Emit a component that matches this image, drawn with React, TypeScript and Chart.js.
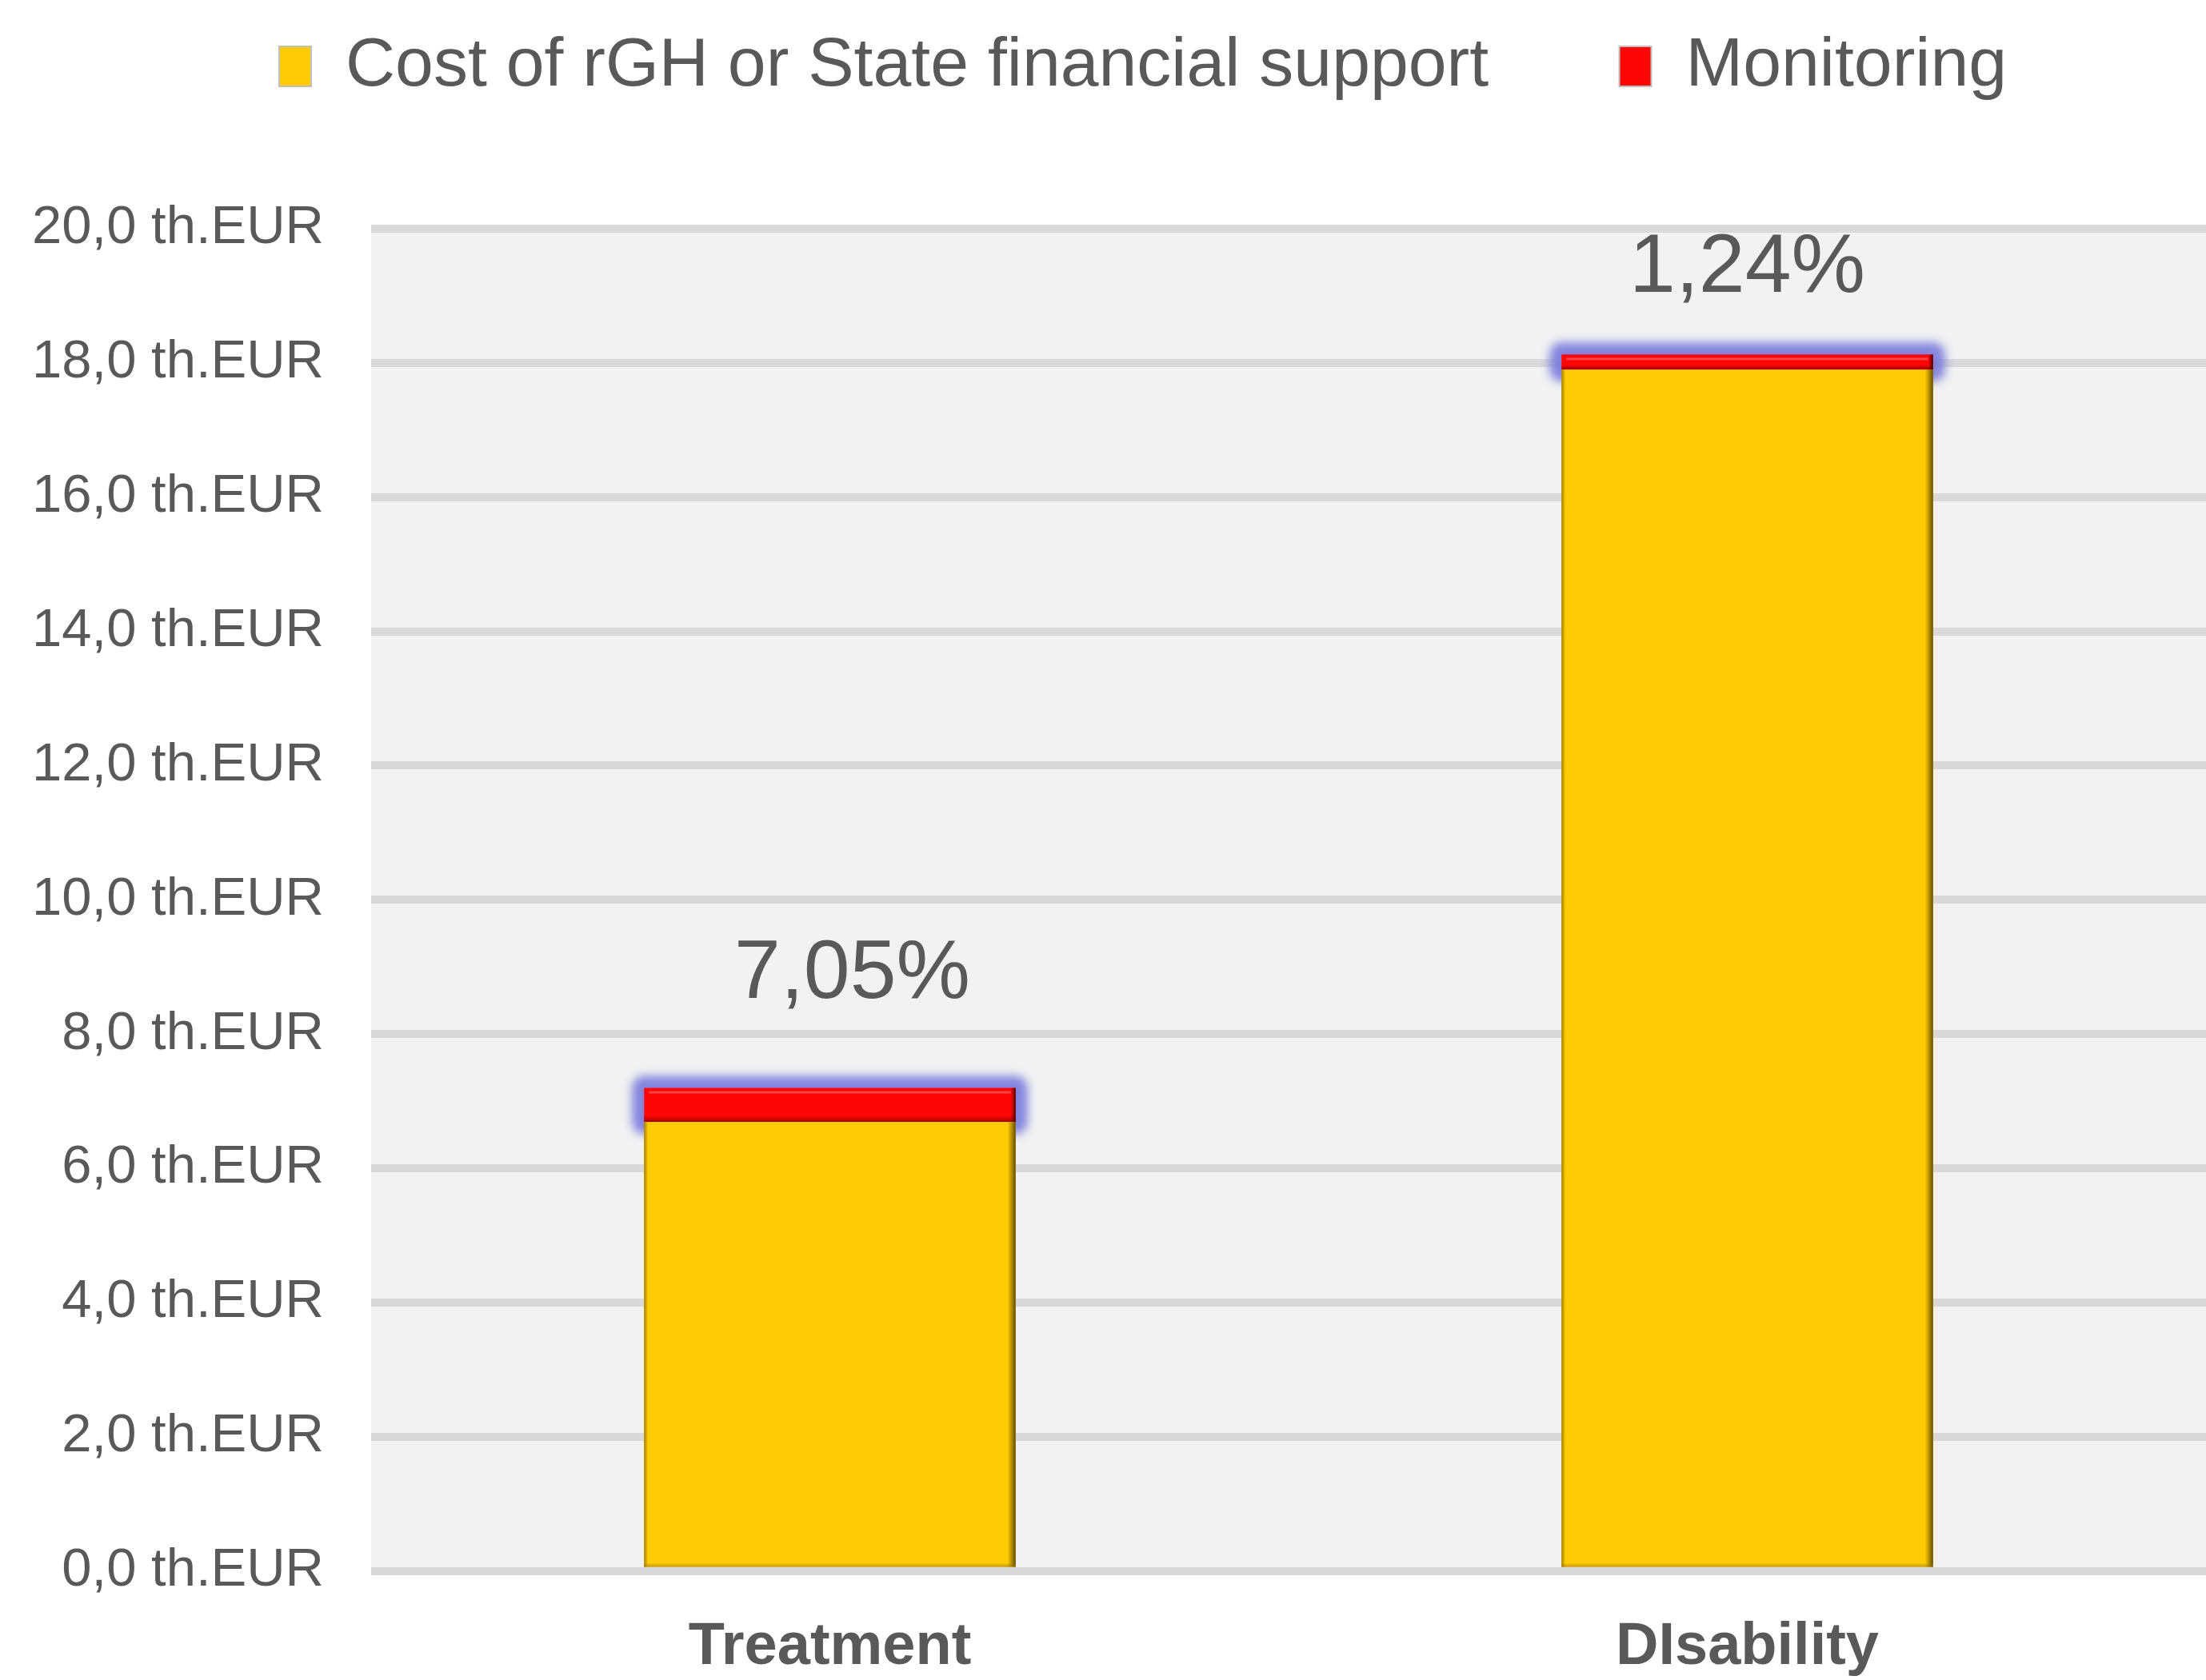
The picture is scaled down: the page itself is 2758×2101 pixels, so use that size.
import React, { useEffect, useRef } from "react";
import { Chart, registerables } from "chart.js";

Chart.register(...registerables);

// ---------- data ----------
const categories = ["Treatment", "DIsability"];
const seriesNames = ["Cost of rGH or State financial support", "Monitoring"];
const costValues = [6.69, 17.9];
const monitoringValues = [0.507, 0.225];
const shareLabels = ["7,05%", "1,24%"];
const yTickValues = [0, 2, 4, 6, 8, 10, 12, 14, 16, 18, 20];
const yTickLabels = [
  "0,0 th.EUR",
  "2,0 th.EUR",
  "4,0 th.EUR",
  "6,0 th.EUR",
  "8,0 th.EUR",
  "10,0 th.EUR",
  "12,0 th.EUR",
  "14,0 th.EUR",
  "16,0 th.EUR",
  "18,0 th.EUR",
  "20,0 th.EUR",
];

// ---------- style ----------
const FONT = "'Liberation Sans', Arial, sans-serif";
const TEXT = "#595959";
const YELLOW = "#ffcb05";
const RED = "#ff0606";
const labelOffsets = [141, 107];
const labelShiftX = [28, 0];
const legendShiftX = 33;

function barBox(el: any) {
  const p = el.getProps(["x", "y", "base", "width"], true);
  const left = p.x - p.width / 2;
  const right = p.x + p.width / 2;
  const top = Math.min(p.y, p.base);
  const bottom = Math.max(p.y, p.base);
  return { left, right, top, bottom, x: p.x, width: p.width };
}

const plotBackground = {
  id: "plotBackground",
  afterLayout(chart: any) {
    if (chart.legend) {
      chart.legend.left += legendShiftX;
      chart.legend.right += legendShiftX;
    }
  },
  beforeDraw(chart: any) {
    const { ctx, chartArea } = chart;
    ctx.save();
    ctx.fillStyle = "#f2f2f2";
    ctx.fillRect(
      chartArea.left,
      chartArea.top,
      chartArea.right - chartArea.left,
      chartArea.bottom - chartArea.top
    );
    ctx.restore();
  },
};

const barEffects = {
  id: "barEffects",
  beforeDatasetDraw(chart: any, args: any) {
    if (args.index !== 1) return;
    const ctx = chart.ctx;
    const meta = chart.getDatasetMeta(1);
    ctx.save();
    ctx.filter = "blur(6px)";
    ctx.fillStyle = "rgba(120,120,220,0.9)";
    meta.data.forEach((el: any) => {
      const b = barBox(el);
      const g = 15;
      ctx.beginPath();
      ctx.roundRect(b.left - g, b.top - g, b.right - b.left + 2 * g, b.bottom - b.top + 2 * g, 15);
      ctx.fill();
    });
    ctx.restore();
  },
  afterDatasetDraw(chart: any, args: any) {
    const ctx = chart.ctx;
    const meta = chart.getDatasetMeta(args.index);
    ctx.save();
    meta.data.forEach((el: any) => {
      const b = barBox(el);
      const h = b.bottom - b.top;
      if (args.index === 0) {
        let g = ctx.createLinearGradient(b.right - 10, 0, b.right, 0);
        g.addColorStop(0, "rgba(90,70,0,0)");
        g.addColorStop(1, "rgba(80,62,0,0.9)");
        ctx.fillStyle = g;
        ctx.fillRect(b.right - 10, b.top, 10, h);
        g = ctx.createLinearGradient(b.left, 0, b.left + 5, 0);
        g.addColorStop(0, "rgba(130,100,0,0.75)");
        g.addColorStop(1, "rgba(130,100,0,0)");
        ctx.fillStyle = g;
        ctx.fillRect(b.left, b.top, 5, h);
        g = ctx.createLinearGradient(0, b.bottom - 5, 0, b.bottom);
        g.addColorStop(0, "rgba(150,115,0,0)");
        g.addColorStop(1, "rgba(150,115,0,0.6)");
        ctx.fillStyle = g;
        ctx.fillRect(b.left, b.bottom - 5, b.right - b.left, 5);
      } else {
        ctx.fillStyle = "rgba(255,90,90,0.75)";
        ctx.fillRect(b.left + 6, b.top + 4, b.right - b.left - 12, Math.min(3, h / 5));
        const dh = Math.min(8, h / 3);
        let g = ctx.createLinearGradient(0, b.bottom - dh, 0, b.bottom);
        g.addColorStop(0, "rgba(120,0,0,0)");
        g.addColorStop(1, "rgba(120,0,0,0.7)");
        ctx.fillStyle = g;
        ctx.fillRect(b.left, b.bottom - dh, b.right - b.left, dh);
        g = ctx.createLinearGradient(b.right - 6, 0, b.right, 0);
        g.addColorStop(0, "rgba(60,0,0,0)");
        g.addColorStop(1, "rgba(60,0,0,0.9)");
        ctx.fillStyle = g;
        ctx.fillRect(b.right - 6, b.top, 6, h);
      }
    });
    ctx.restore();
  },
  afterDatasetsDraw(chart: any) {
    const ctx = chart.ctx;
    const meta = chart.getDatasetMeta(1);
    ctx.save();
    ctx.font = `104px ${FONT}`;
    ctx.fillStyle = TEXT;
    ctx.textAlign = "center";
    ctx.textBaseline = "middle";
    meta.data.forEach((el: any, i: number) => {
      const b = barBox(el);
      ctx.fillText(shareLabels[i], b.x + labelShiftX[i], b.top - labelOffsets[i]);
    });
    ctx.restore();
  },
};

export default function App() {
  const ref = useRef<HTMLCanvasElement | null>(null);

  useEffect(() => {
    document.body.style.margin = "0";
    document.body.style.overflow = "hidden";
    if (!ref.current) return;
    const chart = new Chart(ref.current, {
      type: "bar",
      data: {
        labels: categories,
        datasets: [
          {
            label: seriesNames[0],
            data: costValues,
            backgroundColor: YELLOW,
            borderWidth: 0,
            categoryPercentage: 1,
            barPercentage: 0.405,
          },
          {
            label: seriesNames[1],
            data: monitoringValues,
            backgroundColor: RED,
            borderWidth: 0,
            categoryPercentage: 1,
            barPercentage: 0.405,
          },
        ],
      },
      options: {
        responsive: false,
        animation: false,
        devicePixelRatio: 1,
        layout: { padding: { top: 20, left: 0, right: -34, bottom: -55 } },
        plugins: {
          legend: {
            position: "top",
            labels: {
              font: { family: FONT, size: 86 },
              color: TEXT,
              boxWidth: 40,
              boxHeight: 50,
              padding: 20,
              generateLabels: (c: any) => {
                const items = (Chart.defaults.plugins.legend.labels as any).generateLabels(c);
                return items.map((it: any, i: number) => ({
                  ...it,
                  text: i === 0 ? it.text + "\u00a0".repeat(6) : it.text,
                  strokeStyle: "#bfbfbf",
                  lineWidth: 2,
                  fontColor: TEXT,
                }));
              },
            },
          },
          title: {
            display: true,
            text: " ",
            weight: 500,
            font: { size: 10, lineHeight: 1 },
            padding: { top: 0, bottom: 140 },
          },
          tooltip: { enabled: false },
        },
        scales: {
          x: {
            stacked: true,
            grid: { display: false, drawTicks: false },
            border: { display: false },
            ticks: {
              color: TEXT,
              padding: 55,
              font: { family: FONT, size: 74, weight: "bold", lineHeight: 1.1 },
            },
          },
          y: {
            stacked: true,
            min: 0,
            max: 20,
            afterFit: (scale: any) => {
              scale.width = 464;
            },
            grid: { color: "#d9d9d9", lineWidth: 10, drawTicks: false },
            border: { display: false },
            ticks: {
              stepSize: 2,
              color: TEXT,
              padding: 59,
              font: { family: FONT, size: 67 },
              callback: (v: any) => {
                const i = yTickValues.indexOf(Number(v));
                return i >= 0 ? yTickLabels[i] : "";
              },
            },
          },
        },
      },
      plugins: [plotBackground, barEffects],
    } as any);
    return () => chart.destroy();
  }, []);

  return (
    <div style={{ width: 2758, height: 2101 }}>
      <canvas ref={ref} width={2758} height={2101} style={{ display: "block" }} />
    </div>
  );
}
